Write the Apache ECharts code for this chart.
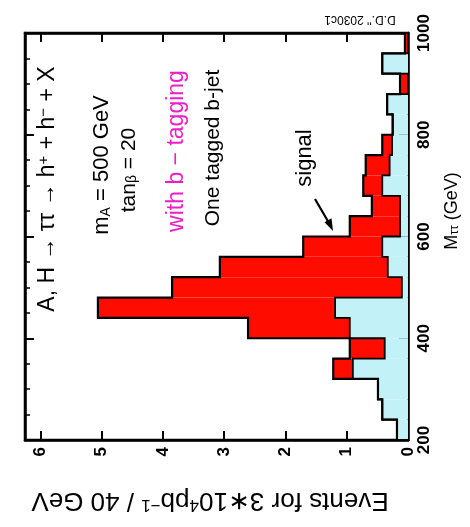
<!DOCTYPE html>
<html><head><meta charset="utf-8">
<script src="https://cdn.jsdelivr.net/npm/echarts@6/dist/echarts.min.js"></script>
<style>html,body{margin:0;padding:0;background:#fff}#c{width:470px;height:527px}</style>
</head><body><div id="c"></div>
<script>
// ---- data ----
const massBinStart = [200,240,280,320,360,400,440,480,520,560,600,640,680,720,760,800,840,880,920,960];
const binWidth = 40;
const backgroundEvents = [0.18,0.42,0.49,0.90,0.38,0.95,1.19,0.10,0.33,0.42,0.13,0.13,0.42,0.30,0.26,0.25,0.34,0.00,0.42,0.00];
const signalEvents     = [0.00,0.00,0.00,0.32,0.57,1.66,3.87,3.75,2.74,1.29,0.82,0.46,0.31,0.39,0.16,0.00,0.00,0.13,0.00,0.05];
const eventTickLabels = ['0','1','2','3','4','5','6'];
const massTickLabels = ['200','400','600','800','1000'];

const FONT = '"Liberation Sans", Arial, Helvetica, sans-serif';
const chart = echarts.init(document.getElementById('c'), null, {renderer:'canvas', width:470, height:527});

const axisLine = {show:true, onZero:false, lineStyle:{color:'#000', width:2.5}};
const majorTick = {show:true, inside:true, length:9, lineStyle:{color:'#000', width:2}};
const minorTick = {show:true, splitNumber:4, length:5, lineStyle:{color:'#000', width:1.5}};
const tickLabel = {fontSize:17, fontWeight:'bold', fontFamily:FONT, color:'#000'};

function xAx(pos, showLabel){
  return {type:'value', position:pos, inverse:true, min:0, max:6.25, interval:1,
    axisLine, axisTick:majorTick, splitLine:{show:false},
    axisLabel: showLabel ? Object.assign({show:true, rotate:90, margin:7,
      formatter:(v)=> eventTickLabels.includes(String(v)) ? String(v) : ''}, tickLabel) : {show:false}};
}
function yAx(pos, showLabel){
  return {type:'value', position:pos, min:200, max:1000, interval:200,
    axisLine, axisTick:majorTick, minorTick, splitLine:{show:false}, minorSplitLine:{show:false},
    axisLabel: showLabel ? Object.assign({show:true, rotate:90, margin:8,
      formatter:(v)=> massTickLabels.includes(String(v)) ? String(v) : ''}, tickLabel) : {show:false}};
}

function txt(x, y, rot, rich, text){
  return {type:'text', x, y, rotation:rot, z:50,
    style:{text, align:'center', verticalAlign:'middle', fill:'#000', fontFamily:FONT, fontSize:20, rich}};
}
const baseRich = (size, color) => ({
  n:{fontSize:size, fontFamily:FONT, fill:color, color:color},
  sub:{fontSize:Math.round(size*0.65), fontFamily:FONT, fill:color, color:color, verticalAlign:'bottom', padding:[Math.round(size*0.35),0,0,0]},
  sup:{fontSize:Math.round(size*0.65), fontFamily:FONT, fill:color, color:color, verticalAlign:'top', padding:[0,0,Math.round(size*0.3),0]}
});

// step contour helper: builds points through the library's coordinate system
function contour(api, values){
  const pts = [api.coord([0, massBinStart[0]])];
  massBinStart.forEach((m,i)=>{
    pts.push(api.coord([values[i], m])); pts.push(api.coord([values[i], m + binWidth]));
  });
  pts.push(api.coord([0, massBinStart[massBinStart.length-1] + binWidth]));
  return pts;
}

const option = {
  backgroundColor:'#fff',
  animation:false,
  grid:{left:25, right:62, top:33, bottom:87, show:true, borderColor:'#000', borderWidth:2.5, backgroundColor:'#fff'},
  xAxis:[xAx('bottom', true), xAx('top', false)],
  yAxis:[yAx('right', true), yAx('left', false)],
  series:[
    {type:'custom', xAxisIndex:0, yAxisIndex:0, silent:true, z:2,
     data: massBinStart.map((m,i)=>[m, backgroundEvents[i], signalEvents[i]]),
     encode:{x:[1], y:[0]},
     renderItem:(params, api)=>{
       const lo = api.value(0), hi = lo + binWidth, bg = api.value(1), sg = api.value(2);
       const rect = (a,b)=>{const p = api.coord([a,lo]), q = api.coord([b,hi]);
         return {x:Math.min(p[0],q[0]), y:Math.min(p[1],q[1]), width:Math.abs(p[0]-q[0]), height:Math.abs(p[1]-q[1])};};
       const children = [];
       if (bg > 0) children.push({type:'rect', shape:rect(0,bg), style:{fill:'#c2f1f8'}});
       if (sg > 0) children.push({type:'rect', shape:rect(bg,bg+sg), style:{fill:'#ff0c00'}});
       return {type:'group', children};
     }},
    {type:'custom', xAxisIndex:0, yAxisIndex:0, silent:true, z:5,
     data:[[0,200]], encode:{x:[0], y:[1]},
     renderItem:(params, api)=>{
       const totals = backgroundEvents.map((b,i)=>b + signalEvents[i]);
       return {type:'group', children:[
         {type:'polyline', shape:{points:contour(api, backgroundEvents)}, style:{stroke:'#000', lineWidth:1.8, fill:null}},
         {type:'polyline', shape:{points:contour(api, totals)}, style:{stroke:'#000', lineWidth:2.2, fill:null}}
       ]};
     }}
  ],
  graphic:[
    txt(48, 189, Math.PI/2, baseRich(23,'#000'), '{n|A, H → ττ → h}{sup|+}{n| + h}{sup|−}{n| + X}'),
    txt(102, 165, Math.PI/2, baseRich(22,'#000'), '{n|m}{sub|A}{n| = 500 GeV}'),
    txt(129, 170, Math.PI/2, baseRich(21,'#000'), '{n|tan}{sub|β}{n| = 20}'),
    txt(177, 151, Math.PI/2, baseRich(23,'#ec1ec8'), '{n|with b − tagging}'),
    txt(213, 148, Math.PI/2, baseRich(21,'#000'), '{n|One tagged b-jet}'),
    txt(305, 158, Math.PI/2, baseRich(22,'#000'), '{n|signal}'),
    txt(210, 500, Math.PI, baseRich(26,'#000'), '{n|Events for 3∗10}{sup|4}{n|pb}{sup|−1}{n| / 40 GeV}'),
    txt(452, 211, Math.PI/2, baseRich(18,'#000'), '{n|M}{sub|ττ}{n| (GeV)}'),
    txt(360, 19, Math.PI, baseRich(12,'#000'), "{n|D.D.'' 2030c1}"),
    {type:'polyline', z:50, shape:{points:[[315,199],[329,223]]}, style:{stroke:'#000', lineWidth:2.2, fill:null}},
    {type:'polygon', z:50, shape:{points:[[333,231],[324.5,222.3],[331.5,218.3]]}, style:{fill:'#000'}}
  ]
};
chart.setOption(option);
</script></body></html>
